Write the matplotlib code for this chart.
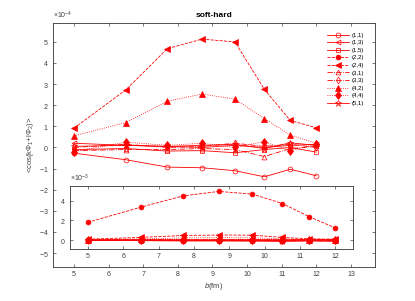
import numpy as np
import matplotlib
matplotlib.use('Agg')
from matplotlib import pyplot as plt
from matplotlib.ticker import ScalarFormatter

plt.rcParams['font.family'] = ['Liberation Sans', 'DejaVu Sans']
plt.rcParams['mathtext.fontset'] = 'custom'
plt.rcParams['mathtext.rm'] = 'Liberation Sans'
plt.rcParams['mathtext.it'] = 'Liberation Sans:italic'

# impact parameter b (fm)
b = [5.0, 6.5, 7.7, 8.7, 9.65, 10.5, 11.25, 12.0]

# <cos(k Phi_1 + l Phi_2)> in units of 1e-4
labels = ['(1,1)', '(1,3)', '(1,5)', '(2,2)', '(2,4)',
          '(3,1)', '(3,3)', '(4,2)', '(4,4)', '(5,1)']
c11 = [-0.27, -0.58, -0.93, -0.96, -1.10, -1.39, -1.03, -1.34]
c13 = [0.20, 0.10, 0.05, 0.00, 0.10, 0.00, 0.10, 0.15]
c15 = [-0.10, -0.05, -0.17, -0.15, -0.25, -0.10, 0.00, -0.22]
c22 = [18.1, 33.5, 45.0, 49.5, 46.8, 37.2, 23.9, 12.3]
c24 = [0.91, 2.73, 4.68, 5.13, 5.00, 2.75, 1.28, 0.93]
c31 = [-0.15, -0.10, -0.10, -0.05, -0.10, -0.43, -0.05, 0.05]
c33 = [0.00, 0.15, 0.00, 0.05, 0.20, 0.05, 0.15, 0.00]
c42 = [0.55, 1.18, 2.19, 2.53, 2.29, 1.37, 0.58, 0.20]
c44 = [-0.20, 0.25, 0.10, 0.20, 0.00, 0.28, -0.17, 0.17]
c51 = [0.05, 0.10, 0.05, 0.10, 0.15, -0.05, 0.22, 0.10]

series = [c11, c13, c15, c22, c24, c31, c33, c42, c44, c51]
styles = [('o', '-', False), ('<', '-', False), ('s', '-', False),
          ('o', '--', True), ('<', '--', True), ('^', '-.', False),
          ('d', '-.', False), ('^', ':', True), ('d', ':', True),
          ('*', '-', False)]


def style_axes(ax):
    ax.tick_params(direction='in', top=True, right=True, labelsize=5,
                   colors='0.25', length=2.5, width=0.5, pad=3)
    for s in ax.spines.values():
        s.set_color('0.2')
        s.set_linewidth(0.6)
    fmt = ScalarFormatter(useMathText=True)
    fmt.set_powerlimits((0, 0))
    ax.yaxis.set_major_formatter(fmt)
    ax.yaxis.get_offset_text().set_fontsize(5)
    ax.yaxis.get_offset_text().set_color('0.25')


def draw(ax, with_label):
    x = np.array(b)
    for y, (m, ls, filled), lab in zip(series, styles, labels):
        ms = 4.5 if m in ('^', '<', 'd') and filled else 3.5
        if m == '*':
            ms = 4.5
        ax.plot(x, np.array(y) * 1e-4, color='r', linestyle=ls, linewidth=0.6,
                marker=m, markersize=ms, markeredgewidth=0.5,
                markerfacecolor='r' if filled else 'none',
                label=lab if with_label else None)


fig = plt.figure(figsize=(4.15, 3.01), dpi=100, facecolor='w')
ax = fig.add_axes([0.128, 0.113, 0.776, 0.811])
draw(ax, True)
ax.set_xlim(4.4, 13.7)
ax.set_ylim(-5.66e-4, 5.9e-4)
ax.set_xticks(range(5, 14))
ax.set_yticks(np.arange(-5, 6) * 1e-4)
style_axes(ax)
ax.set_title('soft-hard', fontsize=6, fontweight='bold', pad=4)
ax.set_xlabel('$b$(fm)', fontsize=5.5, color='0.25', labelpad=2)
ax.set_ylabel(r'<cos(k$\Phi_1$+l$\Phi_2$)>', fontsize=5.5, color='0.25', labelpad=2)
ax.legend(loc='upper right', bbox_to_anchor=(0.975, 0.975), frameon=False,
          fontsize=4.3, handlelength=3.6, handletextpad=0.4,
          labelspacing=0.4, borderaxespad=0.2)

ins = fig.add_axes([0.169, 0.173, 0.682, 0.209])
draw(ins, False)
ins.set_xlim(4.5, 12.5)
ins.set_ylim(-0.9e-3, 5.5e-3)
ins.set_xticks(range(5, 13))
ins.set_yticks(np.array([0, 2, 4]) * 1e-3)
style_axes(ins)

plt.savefig('out.png', dpi=100)
